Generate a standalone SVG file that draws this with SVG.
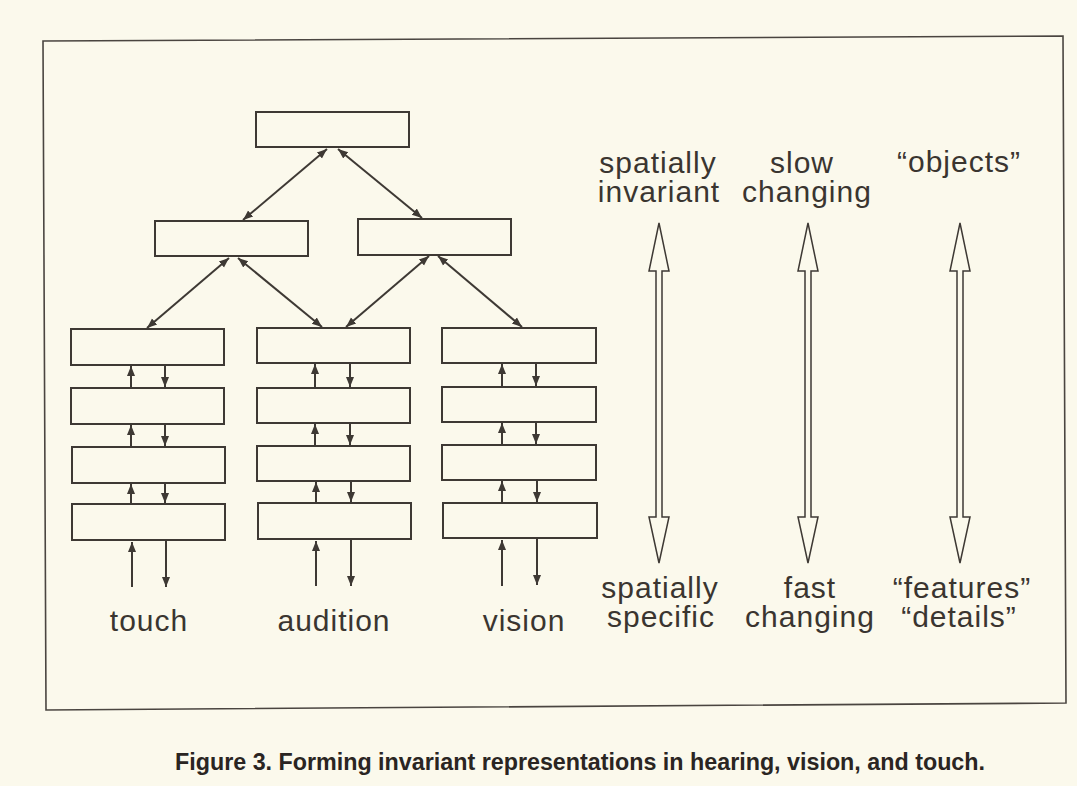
<svg xmlns="http://www.w3.org/2000/svg" width="1077" height="786" viewBox="0 0 1077 786">
<style>
.bg{fill:#fbf9ec}
.frame{fill:none;stroke:#4a4540;stroke-width:1.6}
.box{fill:#fbf9ec;stroke:#3e3934;stroke-width:2}
.ln{fill:none;stroke:#3e3934;stroke-width:2}
.hollow{fill:#fbf9ec;stroke:#3e3934;stroke-width:1.5;stroke-linejoin:miter}
.lbl{font-family:"Liberation Sans",Arial,sans-serif;font-size:30px;fill:#3a3530;text-anchor:middle;letter-spacing:1px}
.cap{font-family:"Liberation Sans",Arial,sans-serif;font-size:23px;font-weight:bold;fill:#2a2522}
</style>
<defs>
<marker id="ah" markerUnits="userSpaceOnUse" markerWidth="12" markerHeight="10" refX="10" refY="4" orient="auto-start-reverse" viewBox="0 0 12 8">
<path d="M0,0 L10,4 L0,8 Z" fill="#3e3934"/>
</marker>
</defs>
<rect class="bg" x="0" y="0" width="1077" height="786"/>
<polygon class="frame" points="43,41 1063,36 1066,703 46,710"/>

<g id="top"><rect class="box" x="256" y="112" width="153" height="35"/></g>
<g id="mid-left"><rect class="box" x="155" y="221" width="153" height="35"/></g>
<g id="mid-right"><rect class="box" x="358" y="219" width="153" height="36"/></g>

<g id="touch-1"><rect class="box" x="71" y="329" width="153" height="36"/></g>
<g id="touch-2"><rect class="box" x="71" y="388" width="153" height="36"/></g>
<g id="touch-3"><rect class="box" x="72" y="447" width="153" height="36"/></g>
<g id="touch-4"><rect class="box" x="72" y="504" width="153" height="36"/></g>

<g id="audition-1"><rect class="box" x="257" y="328" width="153" height="35"/></g>
<g id="audition-2"><rect class="box" x="257" y="388" width="153" height="35"/></g>
<g id="audition-3"><rect class="box" x="257" y="446" width="153" height="35"/></g>
<g id="audition-4"><rect class="box" x="258" y="503" width="153" height="36"/></g>

<g id="vision-1"><rect class="box" x="442" y="328" width="154" height="35"/></g>
<g id="vision-2"><rect class="box" x="442" y="387" width="154" height="35"/></g>
<g id="vision-3"><rect class="box" x="442" y="445" width="154" height="35"/></g>
<g id="vision-4"><rect class="box" x="443" y="503" width="154" height="35"/></g>

<g id="connectors">
<line class="ln" x1="327" y1="149" x2="243" y2="220" marker-start="url(#ah)" marker-end="url(#ah)"/>
<line class="ln" x1="338" y1="149" x2="422" y2="218" marker-start="url(#ah)" marker-end="url(#ah)"/>
<line class="ln" x1="229" y1="258" x2="147" y2="328" marker-start="url(#ah)" marker-end="url(#ah)"/>
<line class="ln" x1="238" y1="258" x2="322" y2="327" marker-start="url(#ah)" marker-end="url(#ah)"/>
<line class="ln" x1="429" y1="256" x2="346" y2="327" marker-start="url(#ah)" marker-end="url(#ah)"/>
<line class="ln" x1="438" y1="256" x2="522" y2="327" marker-start="url(#ah)" marker-end="url(#ah)"/>

<line class="ln" x1="131" y1="388" x2="131" y2="366" marker-end="url(#ah)"/>
<line class="ln" x1="165" y1="365" x2="165" y2="387" marker-end="url(#ah)"/>
<line class="ln" x1="131" y1="447" x2="131" y2="425" marker-end="url(#ah)"/>
<line class="ln" x1="165" y1="424" x2="165" y2="446" marker-end="url(#ah)"/>
<line class="ln" x1="131" y1="504" x2="131" y2="484" marker-end="url(#ah)"/>
<line class="ln" x1="165" y1="483" x2="165" y2="503" marker-end="url(#ah)"/>
<line class="ln" x1="132" y1="587" x2="132" y2="542" marker-end="url(#ah)"/>
<line class="ln" x1="166" y1="541" x2="166" y2="587" marker-end="url(#ah)"/>

<line class="ln" x1="315" y1="388" x2="315" y2="364" marker-end="url(#ah)"/>
<line class="ln" x1="350" y1="363" x2="350" y2="387" marker-end="url(#ah)"/>
<line class="ln" x1="315" y1="446" x2="315" y2="424" marker-end="url(#ah)"/>
<line class="ln" x1="350" y1="423" x2="350" y2="445" marker-end="url(#ah)"/>
<line class="ln" x1="316" y1="503" x2="316" y2="482" marker-end="url(#ah)"/>
<line class="ln" x1="351" y1="481" x2="351" y2="502" marker-end="url(#ah)"/>
<line class="ln" x1="316" y1="586" x2="316" y2="541" marker-end="url(#ah)"/>
<line class="ln" x1="351" y1="540" x2="351" y2="586" marker-end="url(#ah)"/>

<line class="ln" x1="502" y1="387" x2="502" y2="364" marker-end="url(#ah)"/>
<line class="ln" x1="536" y1="363" x2="536" y2="386" marker-end="url(#ah)"/>
<line class="ln" x1="502" y1="445" x2="502" y2="423" marker-end="url(#ah)"/>
<line class="ln" x1="536" y1="422" x2="536" y2="444" marker-end="url(#ah)"/>
<line class="ln" x1="502" y1="503" x2="502" y2="481" marker-end="url(#ah)"/>
<line class="ln" x1="537" y1="480" x2="537" y2="502" marker-end="url(#ah)"/>
<line class="ln" x1="502" y1="586" x2="502" y2="540" marker-end="url(#ah)"/>
<line class="ln" x1="537" y1="539" x2="537" y2="585" marker-end="url(#ah)"/>
</g>

<g id="scale-arrows">
<path class="hollow" d="M659,223 L669,271 L662,271 L662,517 L669,517 L659,563 L649,517 L656,517 L656,271 L649,271 Z"/>
<path class="hollow" d="M808,223 L818,271 L811,271 L811,517 L818,517 L808,563 L798,517 L805,517 L805,271 L798,271 Z"/>
<path class="hollow" d="M960,223 L970,271 L963,271 L963,517 L970,517 L960,563 L950,517 L957,517 L957,271 L950,271 Z"/>
</g>

<g id="labels">
<text class="lbl" x="149" y="631">touch</text>
<text class="lbl" x="334" y="631">audition</text>
<text class="lbl" x="524" y="631">vision</text>
<text class="lbl" x="658" y="173">spatially</text>
<text class="lbl" x="659" y="202">invariant</text>
<text class="lbl" x="802" y="173">slow</text>
<text class="lbl" x="807" y="202">changing</text>
<text class="lbl" x="959" y="172">“objects”</text>
<text class="lbl" x="660" y="598">spatially</text>
<text class="lbl" x="661" y="627">specific</text>
<text class="lbl" x="810" y="598">fast</text>
<text class="lbl" x="810" y="627">changing</text>
<text class="lbl" x="962" y="598">“features”</text>
<text class="lbl" x="959" y="627">“details”</text>
</g>

<text class="cap" x="175" y="770" textLength="810" lengthAdjust="spacingAndGlyphs">Figure 3. Forming invariant representations in hearing, vision, and touch.</text>
</svg>
